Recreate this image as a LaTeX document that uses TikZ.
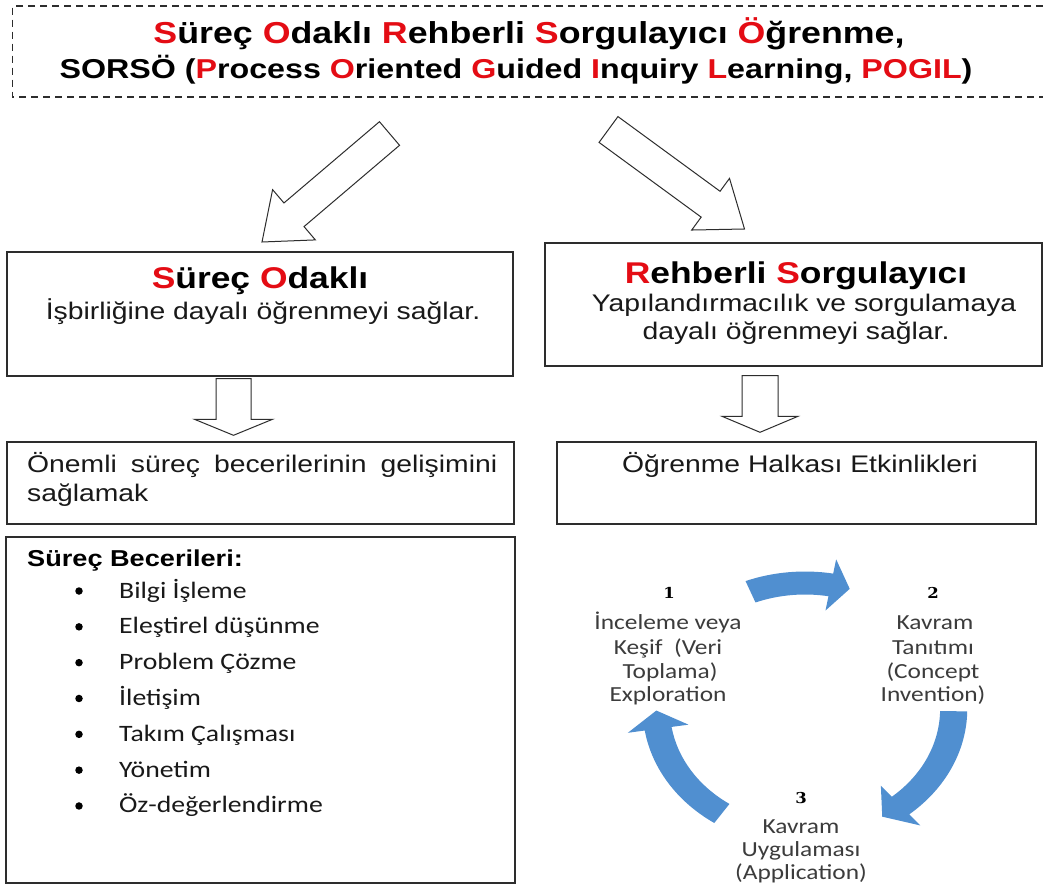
\documentclass[tikz,border=0pt]{standalone}
\usepackage{fontspec}
\setmainfont{Liberation Sans}[FakeStretch=1.18]
\newfontfamily\calfont{Carlito}[FakeStretch=1.18]
\newfontfamily\numfont{DejaVu Serif}[FakeStretch=1.1]
\usetikzlibrary{calc}
\definecolor{tred}{RGB}{228,12,20}
\definecolor{edge}{RGB}{45,45,45}
\definecolor{txt}{RGB}{25,25,25}
\definecolor{ctxt}{RGB}{60,60,60}
\definecolor{cyc}{RGB}{80,143,208}
\newcommand\rl[1]{\textcolor{tred}{#1}}
\newcommand\fs[1]{\fontsize{#1}{#1}\selectfont}
\tikzset{
  box/.style={draw=edge, line width=1.4pt, inner sep=0pt},
  blockarr/.style={draw=edge, line width=1pt, fill=white, line join=miter},
  ttl/.style={anchor=base, font=\bfseries\fs{28}, text=black, inner sep=0pt},
  hd/.style={anchor=base, font=\bfseries\fs{30}, text=black, inner sep=0pt},
  bt/.style={anchor=base, font=\fs{24}, text=txt, inner sep=0pt},
  bul/.style={circle, fill=black, inner sep=0pt, minimum size=7.5pt},
  item/.style={anchor=base west, font=\calfont\fs{23.5}, text=txt, inner sep=0pt},
  clab/.style={anchor=base, font=\calfont\fs{21.5}, text=ctxt, inner sep=0pt},
  numl/.style={anchor=base, font=\numfont\bfseries\fs{15}, text=black, inner sep=0pt},
  cycarr/.style={fill=cyc}
}
\newcommand\barrow[5]{%
  \coordinate (#1-h) at ($(#2)!#5!(#1)$);
  \draw[blockarr] ($(#1)!#3!90:(#2)$) -- ($(#1-h)!#3!90:(#2)$) -- ($(#1-h)!#4!90:(#2)$)
    -- (#2) -- ($(#1-h)!#4!-90:(#2)$) -- ($(#1-h)!#3!-90:(#2)$) -- ($(#1)!#3!-90:(#2)$) -- cycle;}
\newcommand\cycarrow[3]{%
  \fill[cycarr] (#1:137.5) arc[start angle=#1, end angle=#2, radius=137.5]
    -- (#2:152) -- (#3:126) -- (#2:100) -- (#2:114.5)
    arc[start angle=#2, end angle=#1, radius=114.5] -- cycle;}
\begin{document}
\begin{tikzpicture}[x=1pt,y=-1pt]
\useasboundingbox[fill=white] (0,0) rectangle (1043,888);

% title
\draw[draw=edge, line width=1.3pt, dash pattern=on 7pt off 5pt] (1043,6) -- (12.7,6) -- (12.7,97) -- (1043,97);
\node[ttl, font=\bfseries\fs{30.3}] (t1) at (529,43.5) {\rl{S}üreç \rl{O}daklı \rl{R}ehberli \rl{S}orgulayıcı \rl{Ö}ğrenme,};
\node[ttl, font=\bfseries\fs{27.3}] (t2) at (516,78.5) {SORSÖ (\rl{P}rocess \rl{O}riented \rl{G}uided \rl{I}nquiry \rl{L}earning, \rl{POGIL})};

% boxes
\node[box, minimum width=506pt, minimum height=124pt] (sa) at (260,314) {};
\node[box, minimum width=497pt, minimum height=123pt] (rs) at (793.5,304.5) {};
\node[box, minimum width=507pt, minimum height=82pt] (ob) at (260.5,483) {};
\node[box, minimum width=479pt, minimum height=82pt] (oh) at (796.5,483) {};
\node[box, minimum width=509pt, minimum height=346pt] (sb) at (260.5,710) {};

% box texts
\node[hd] (sa-h) at (260,288) {\rl{S}üreç \rl{O}daklı};
\node[bt] (sa-t) at (263,319) {İşbirliğine dayalı öğrenmeyi sağlar.};
\node[hd] (rs-h) at (796,283) {\rl{R}ehberli \rl{S}orgulayıcı};
\node[bt] (rs-t1) at (804,311) {Yapılandırmacılık ve sorgulamaya};
\node[bt] (rs-t2) at (796,339) {dayalı öğrenmeyi sağlar.};
\node[bt, anchor=base west] (ob-t1) at (27,472) {\makebox[470pt][s]{Önemli süreç becerilerinin gelişimini}};
\node[bt, anchor=base west] (ob-t2) at (27,501) {sağlamak};
\node[bt] (oh-t) at (800,472) {Öğrenme Halkası Etkinlikleri};
\node[anchor=base west, font=\bfseries\fs{23}, text=black, inner sep=0pt] (sb-h) at (27,566) {Süreç Becerileri:};
\foreach \t [count=\i] in {Bilgi İşleme, Eleştirel düşünme, Problem Çözme, İletişim, Takım Çalışması, Yönetim, Öz-değerlendirme}{
  \node[bul] (b\i) at (79,{591+35.83*(\i-1)}) {};
  \node[item] (i\i) at (119,{598+35.83*(\i-1)}) {\t};
}

% block arrows
\coordinate (la-t) at (389.5,133.5); \coordinate (la-p) at (262,242);
\barrow{la-t}{la-p}{15.5pt}{33pt}{42pt}
\coordinate (ra-t) at (608.5,129.5); \coordinate (ra-p) at (744.5,229);
\barrow{ra-t}{ra-p}{16pt}{32pt}{42pt}
\coordinate (ld-t) at ($(sa.south)+(-26.5,2)$); \coordinate (ld-p) at ($(ob.north)+(-27,-6)$);
\barrow{ld-t}{ld-p}{17.5pt}{39pt}{16pt}
\coordinate (rd-t) at ($(rs.south)+(-33.5,9)$); \coordinate (rd-p) at ($(oh.north)+(-36.5,-9)$);
\barrow{rd-t}{rd-p}{18pt}{38pt}{16pt}

% cycle
\begin{scope}[shift={(805,709)}, xscale=1.18, yscale=-1]
  \cycarrow{111.5}{80}{72.5}
  \cycarrow{-1}{-50}{-58.7}
  \cycarrow{236}{189}{180.7}
\end{scope}
\node[numl] (n1) at (669,598) {1};
\node[clab] (l1a) at (668,629) {İnceleme veya};
\node[clab] (l1b) at (668,654) {Keşif \ (Veri};
\node[clab] (l1c) at (670,678) {Toplama)};
\node[clab] (l1d) at (668,701) {Exploration};
\node[numl] (n2) at (933,598) {2};
\node[clab] (l2a) at (935,629) {Kavram};
\node[clab] (l2b) at (933,654) {Tanıtımı};
\node[clab] (l2c) at (933,678) {(Concept};
\node[clab] (l2d) at (933,701) {Invention)};
\node[numl] (n3) at (801,803) {3};
\node[clab] (l3a) at (801,833) {Kavram};
\node[clab] (l3b) at (801,856) {Uygulaması};
\node[clab] (l3c) at (801,879) {(Application)};
\end{tikzpicture}
\end{document}
